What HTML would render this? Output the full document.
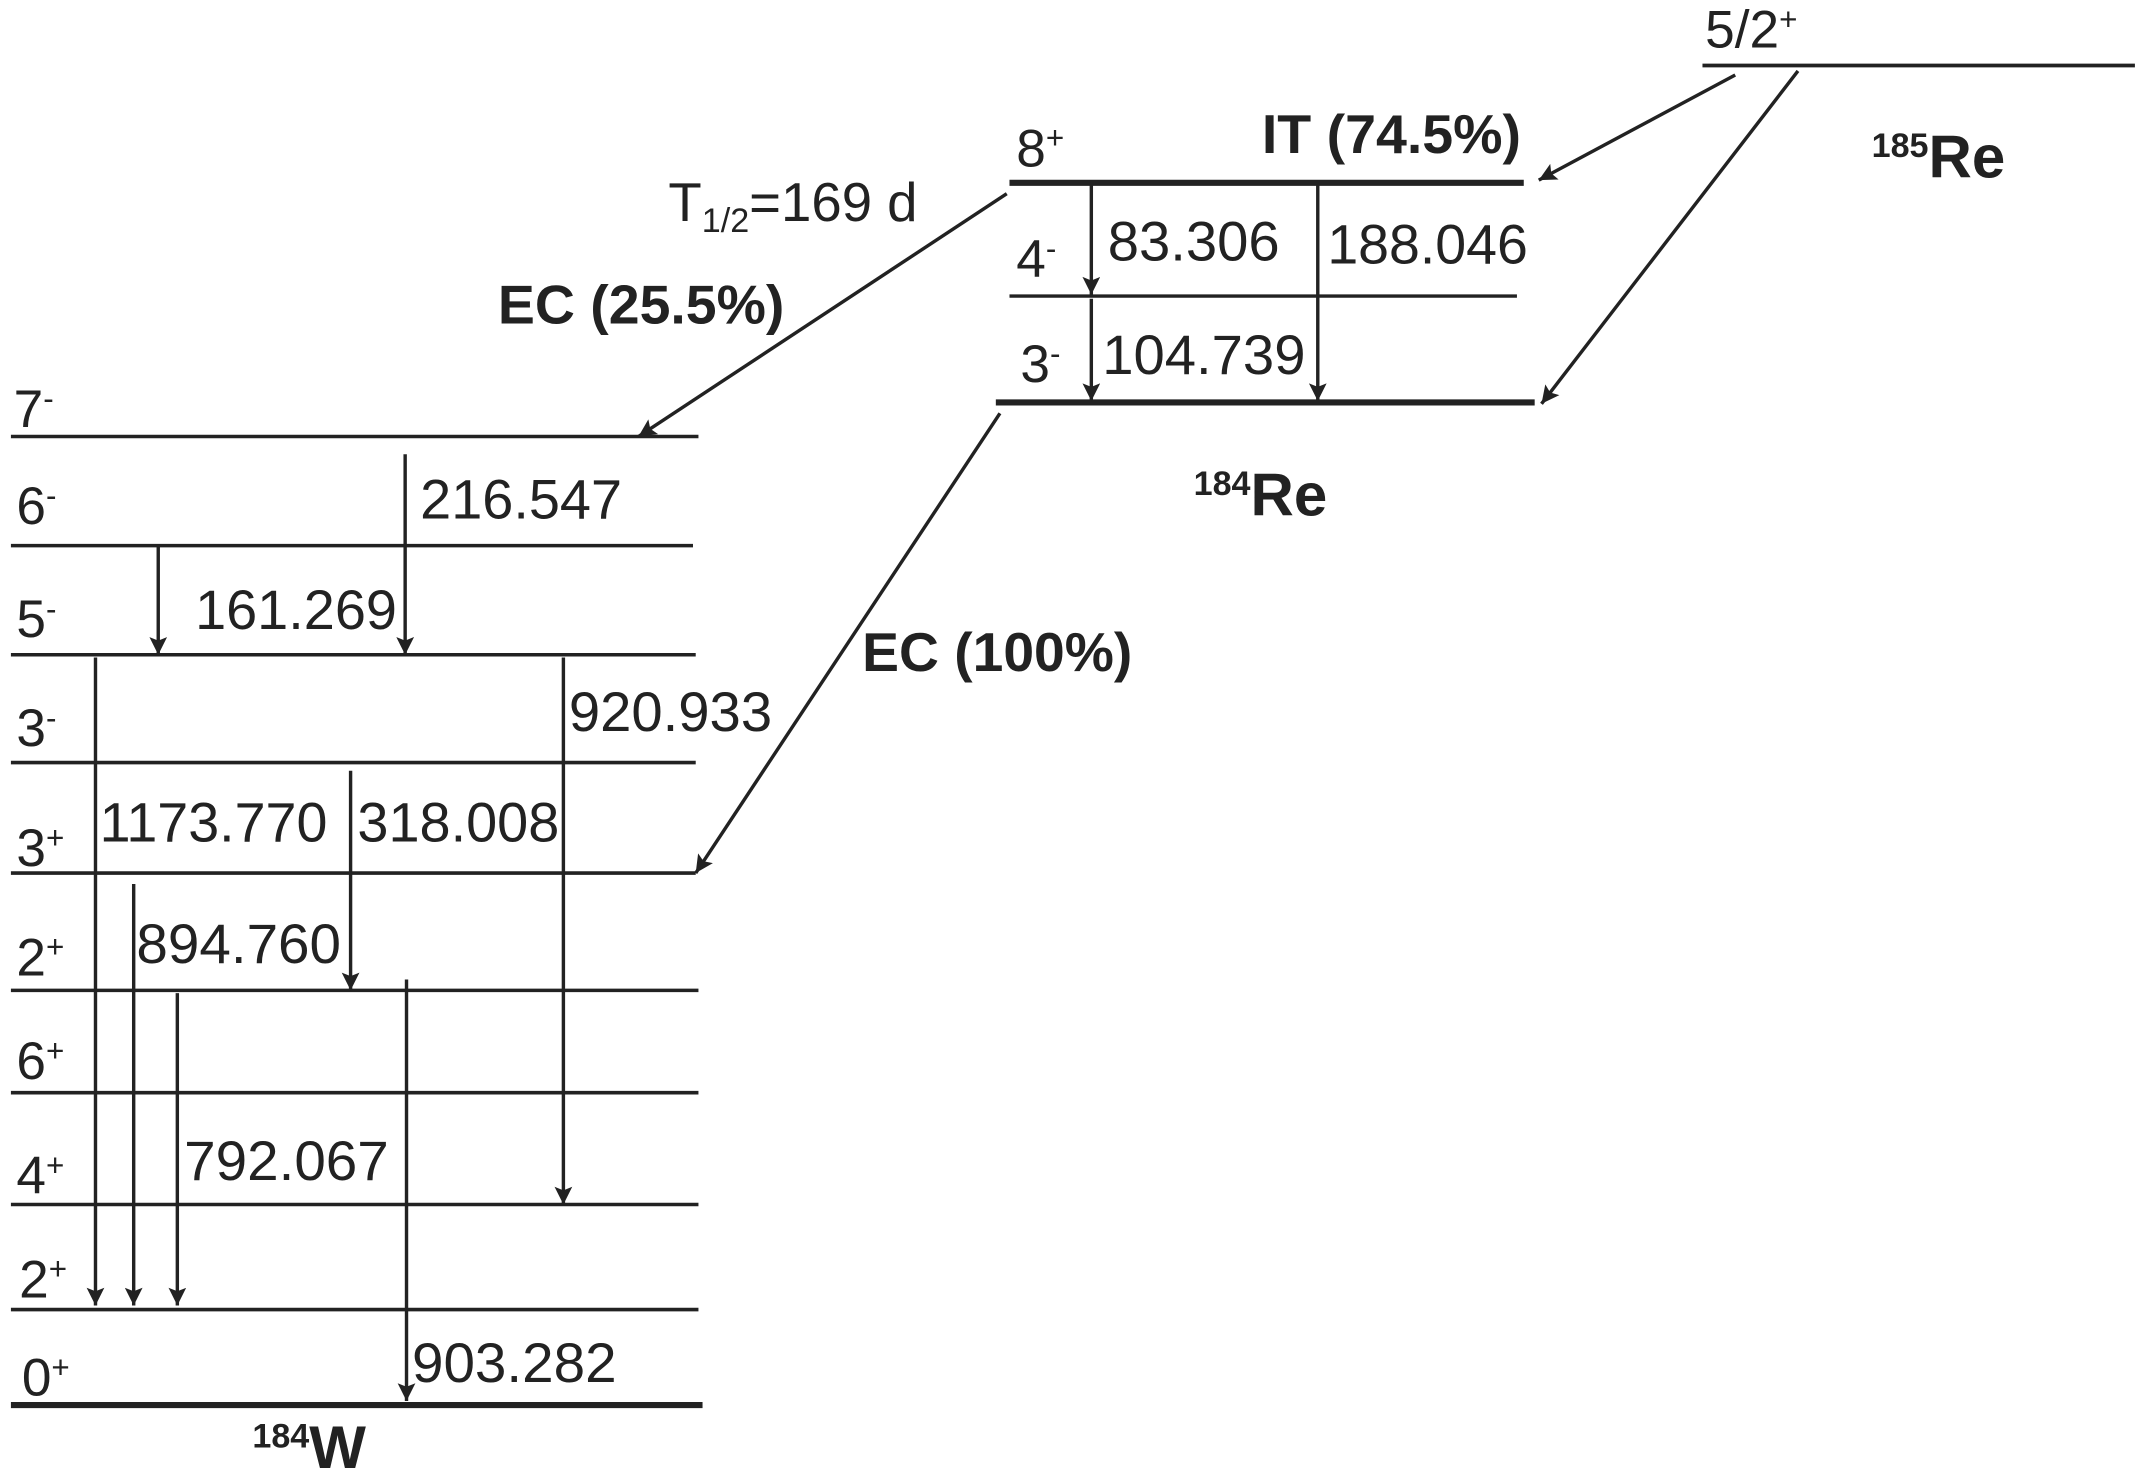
<!DOCTYPE html>
<html><head><meta charset="utf-8"><style>
html,body{margin:0;padding:0;background:#fff;}
svg{display:block;}
text{font-family:"Liberation Sans",Arial,sans-serif;fill:#222;}
</style></head><body>
<svg width="2139" height="1482" viewBox="0 0 1568 1086.4" preserveAspectRatio="none" xmlns="http://www.w3.org/2000/svg">
<defs>
<marker id="h" viewBox="0 0 10 10" markerWidth="16" markerHeight="13" refX="10" refY="5" orient="auto" markerUnits="userSpaceOnUse"><path d="M0,0 L10,5 L0,10 L2,5 Z" fill="#222"/></marker></defs>
<g stroke="#222" fill="none">
<line x1="1248" y1="48" x2="1565" y2="48" stroke-width="2.8"/>
<line x1="740" y1="134" x2="1117" y2="134" stroke-width="4.5"/>
<line x1="740" y1="217" x2="1112" y2="217" stroke-width="2.5"/>
<line x1="730" y1="295" x2="1125" y2="295" stroke-width="4.5"/>
<g stroke-width="2.6">
<line x1="8" y1="320" x2="512" y2="320"/>
<line x1="8" y1="400" x2="508" y2="400"/>
<line x1="8" y1="480" x2="510" y2="480"/>
<line x1="8" y1="559" x2="510" y2="559"/>
<line x1="8" y1="640" x2="510" y2="640"/>
<line x1="8" y1="726" x2="512" y2="726"/>
<line x1="8" y1="801" x2="512" y2="801"/>
<line x1="8" y1="883" x2="512" y2="883"/>
<line x1="8" y1="960" x2="512" y2="960"/>
</g>
<line x1="8" y1="1030" x2="515" y2="1030" stroke-width="4.5"/>
<g stroke-width="2.5" marker-end="url(#h)">
<line x1="800" y1="136" x2="800" y2="216"/>
<line x1="800" y1="219" x2="800" y2="294"/>
<line x1="966" y1="136" x2="966" y2="294"/>
<line x1="1272" y1="55" x2="1128" y2="132"/>
<line x1="1318" y1="52" x2="1130" y2="296"/>
<line x1="738" y1="142" x2="468" y2="320"/>
<line x1="733" y1="303" x2="510" y2="640"/>
<line x1="297" y1="333" x2="297" y2="480"/>
<line x1="116" y1="400" x2="116" y2="480"/>
<line x1="413" y1="482" x2="413" y2="883"/>
<line x1="70" y1="482" x2="70" y2="957"/>
<line x1="257" y1="565" x2="257" y2="726"/>
<line x1="98" y1="648" x2="98" y2="957"/>
<line x1="130" y1="728" x2="130" y2="957"/>
<line x1="298" y1="718" x2="298" y2="1027"/>
</g>
</g>
<g font-size="39">
<text x="1250" y="35">5/2<tspan font-size="23" dy="-13">+</tspan></text>
<text x="745" y="122">8<tspan font-size="23" dy="-13">+</tspan></text>
<text x="745" y="203">4<tspan font-size="23" dy="-13">-</tspan></text>
<text x="748" y="280">3<tspan font-size="23" dy="-13">-</tspan></text>
<text x="490" y="162" font-size="40">T<tspan font-size="25" dy="8">1/2</tspan><tspan dy="-8">=169 d</tspan></text>
<text x="10" y="313">7<tspan font-size="23" dy="-13">-</tspan></text>
<text x="12" y="384">6<tspan font-size="23" dy="-13">-</tspan></text>
<text x="12" y="467">5<tspan font-size="23" dy="-13">-</tspan></text>
<text x="12" y="547">3<tspan font-size="23" dy="-13">-</tspan></text>
<text x="12" y="635">3<tspan font-size="23" dy="-13">+</tspan></text>
<text x="12" y="715">2<tspan font-size="23" dy="-13">+</tspan></text>
<text x="12" y="791">6<tspan font-size="23" dy="-13">+</tspan></text>
<text x="12" y="875">4<tspan font-size="23" dy="-13">+</tspan></text>
<text x="14" y="951">2<tspan font-size="23" dy="-13">+</tspan></text>
<text x="16" y="1023">0<tspan font-size="23" dy="-13">+</tspan></text>
</g>
<g font-size="41">
<text x="812" y="191" textLength="126" lengthAdjust="spacingAndGlyphs">83.306</text>
<text x="973" y="193" textLength="147" lengthAdjust="spacingAndGlyphs">188.046</text>
<text x="808" y="274" textLength="149" lengthAdjust="spacingAndGlyphs">104.739</text>
<text x="308" y="380" textLength="148" lengthAdjust="spacingAndGlyphs">216.547</text>
<text x="143" y="461" textLength="148" lengthAdjust="spacingAndGlyphs">161.269</text>
<text x="417" y="536" textLength="149" lengthAdjust="spacingAndGlyphs">920.933</text>
<text x="73" y="617" textLength="167" lengthAdjust="spacingAndGlyphs">1173.770</text>
<text x="262" y="617" textLength="148" lengthAdjust="spacingAndGlyphs">318.008</text>
<text x="100" y="706" textLength="150" lengthAdjust="spacingAndGlyphs">894.760</text>
<text x="135" y="865" textLength="150" lengthAdjust="spacingAndGlyphs">792.067</text>
<text x="302" y="1013" textLength="150" lengthAdjust="spacingAndGlyphs">903.282</text>
</g>
<g font-weight="bold" font-size="40">
<text x="925" y="112" textLength="190" lengthAdjust="spacingAndGlyphs">IT (74.5%)</text>
<text x="365" y="237" textLength="210" lengthAdjust="spacingAndGlyphs">EC (25.5%)</text>
<text x="632" y="492" textLength="198" lengthAdjust="spacingAndGlyphs">EC (100%)</text>
<text x="1372" y="130" font-size="44"><tspan font-size="25" dy="-15">185</tspan><tspan dy="15">Re</tspan></text>
<text x="875" y="378" font-size="44"><tspan font-size="25" dy="-15">184</tspan><tspan dy="15">Re</tspan></text>
<text x="185" y="1076" font-size="44"><tspan font-size="25" dy="-15">184</tspan><tspan dy="15">W</tspan></text>
</g>
</svg>
</body></html>
